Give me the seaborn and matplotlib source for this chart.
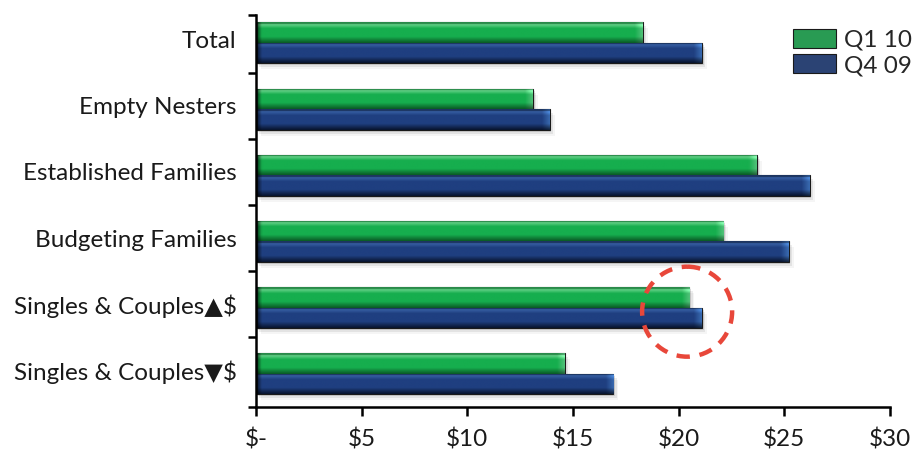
import numpy as np
import pandas as pd
import matplotlib
matplotlib.use("Agg")
import matplotlib.pyplot as plt
import seaborn as sns
from matplotlib.patches import Ellipse
from matplotlib.colors import to_rgb

segments = ["Total", "Empty Nesters", "Established Families", "Budgeting Families",
            "Singles & Couples\u25B2$", "Singles & Couples\u25BC$"]
q1_10 = [18.3, 13.1, 23.7, 22.1, 20.5, 14.6]
q4_09 = [21.1, 13.9, 26.2, 25.2, 21.1, 16.9]
series_names = ["Q1 10", "Q4 09"]
xtick_vals = [0, 5, 10, 15, 20, 25, 30]
xtick_labels = ["$-", "$5", "$10", "$15", "$20", "$25", "$30"]

df = pd.DataFrame({
    "segment": segments * 2,
    "value": q1_10 + q4_09,
    "period": [series_names[0]] * len(segments) + [series_names[1]] * len(segments),
})

sns.set_style("white")
plt.rcParams["font.family"] = ["Lato", "DejaVu Sans"]
FS = 17.5

fig = plt.figure(figsize=(9.13, 4.55), dpi=100)
ax = fig.add_axes([256/913, 1-407/455, (890-256)/913, (407-15)/455])

green = "#16ae4e"
blue = "#1f3f80"
sns.barplot(data=df, x="value", y="segment", hue="period", order=segments,
            hue_order=series_names, palette=[green, blue], orient="y",
            width=0.62, ax=ax, edgecolor="#1a1a1a", linewidth=0.8, legend=True)

def profile(base, kind):
    r = np.array(to_rgb(base))
    if kind == "green":
        top, hi, bot = np.array(to_rgb("#2a8a4a")), np.array(to_rgb("#6fd68f")), np.array(to_rgb("#0a5a26"))
        end = np.array(to_rgb("#7fe0a0"))
    else:
        top, hi, bot = np.array(to_rgb("#1d3560")), np.array(to_rgb("#3a64a8")), np.array(to_rgb("#08142e"))
        end = np.array(to_rgb("#4a86d0"))
    n = 40
    t = np.linspace(0, 1, n)
    cols = []
    for v in t:
        if v < 0.08:
            c = top
        elif v < 0.3:
            f = (v - 0.08) / 0.22
            c = hi * (1 - f) + r * f
        elif v < 0.7:
            c = r
        else:
            f = (v - 0.7) / 0.3
            c = r * (1 - f) + bot * f
        cols.append(c)
    return np.array(cols), end

bars = [p for p in ax.patches if p.get_width() > 0]
for p in bars:
    fc = p.get_facecolor()
    kind = "green" if fc[1] > fc[2] else "blue"
    base = green if kind == "green" else blue
    vcols, end = profile(base, kind)
    x0, y0, w, h = p.get_x(), p.get_y(), p.get_width(), p.get_height()
    ncol = 300
    img = np.repeat(vcols[:, None, :], ncol, axis=1)
    xs = np.linspace(0, w, ncol)
    left = np.clip((0.25 - xs) / 0.25, 0, 1)[None, :, None]
    right = np.clip((xs - (w - 0.35)) / 0.35, 0, 1)[None, :, None]
    img = img * (1 - 0.7 * left)
    img = img * (1 - 0.6 * right) + end[None, None, :] * 0.6 * right * (vcols[:, None, :].mean(axis=2, keepdims=True) / vcols.mean() * 0.9)
    img = np.clip(img, 0, 1)
    im = ax.imshow(img, extent=[x0, x0 + w, y0 + h, y0], aspect="auto",
                   interpolation="bilinear", zorder=p.get_zorder() + 0.1)
    im.set_clip_path(p)
    for k, a in enumerate([0.10, 0.07, 0.04]):
        off = 0.08 * (k + 1)
        ax.add_patch(plt.Rectangle((x0 + off, y0 + 0.03 * (k + 1)), w, h,
                                   facecolor="black", alpha=a, edgecolor="none",
                                   zorder=p.get_zorder() - 0.5))

# axes limits
bottom_lim = len(segments) - 0.5
top_lim = bottom_lim - (407 - 15) / 66.2
ax.set_ylim(bottom_lim, top_lim)
ax.set_xlim(xtick_vals[0], xtick_vals[-1])

bounds = [i + 0.45 for i in range(len(segments) - 1)]
ax.set_yticks([top_lim] + bounds + [bottom_lim])
ax.set_yticklabels([])
ax.set_yticks([i - 0.05 for i in range(len(segments))], minor=True)
ax.set_yticklabels(segments, minor=True, fontsize=FS, color="#1a1a1a")
ax.tick_params(axis="y", which="major", length=6, width=1.8, color="black", direction="out", left=True)
ax.tick_params(axis="y", which="minor", length=0, pad=14)
ax.set_xticks(xtick_vals)
ax.set_xticklabels(xtick_labels, fontsize=FS, color="#1a1a1a")
ax.tick_params(axis="x", length=6.5, width=1.8, color="black", direction="out", pad=9, bottom=True)

for s in ["top", "right"]:
    ax.spines[s].set_visible(False)
for s in ["left", "bottom"]:
    ax.spines[s].set_linewidth(1.8)
    ax.spines[s].set_color("black")

ax.set_xlabel("")
ax.set_ylabel("")

handles, labels = ax.get_legend_handles_labels()
ax.legend(handles, labels, loc="upper left", bbox_to_anchor=(793/913, 1 - 29/455),
          bbox_transform=fig.transFigure, frameon=False, fontsize=FS,
          borderpad=0, borderaxespad=0, handlelength=1.75, handleheight=0.8,
          handletextpad=0.35, labelspacing=0.15)

circ = Ellipse((20.4, 4.06), width=90/21.13, height=90/66.2, fill=False,
               edgecolor="#e8473a", linewidth=3.2, linestyle=(0, (3, 2.2)), zorder=10,
               clip_on=False)
ax.add_patch(circ)

fig.savefig("out.png", dpi=100)
